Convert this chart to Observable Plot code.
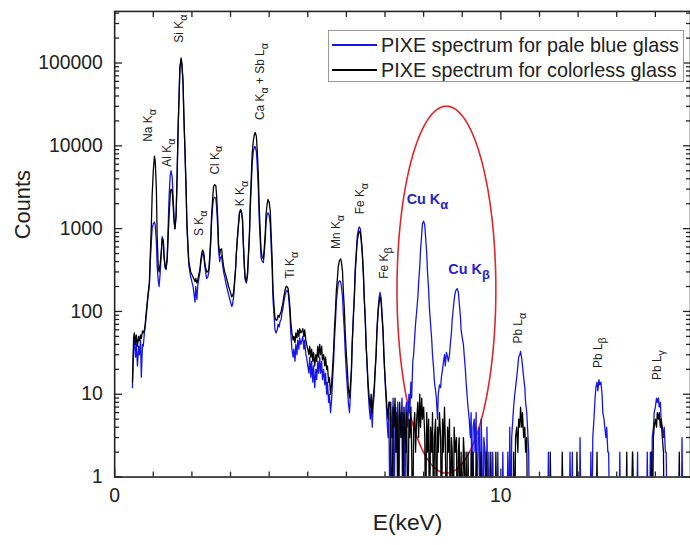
<!DOCTYPE html>
<html><head><meta charset="utf-8">
<script src="https://cdn.jsdelivr.net/npm/d3@7"></script>
<script src="https://cdn.jsdelivr.net/npm/@observablehq/plot@0.6"></script>
<style>
html,body{margin:0;padding:0;background:#fff;overflow:hidden;}
#wrap{position:relative;width:690px;height:545px;overflow:hidden;}
#legend{position:absolute;left:328px;top:30px;width:356px;height:52px;border:1px solid #999;background:#fff;font-family:"Liberation Sans",Arial,sans-serif;font-size:19.8px;color:#222;box-sizing:border-box;}
.row{position:absolute;left:0;display:flex;align-items:center;height:24px;white-space:nowrap;}
.sw{display:inline-block;width:45px;height:1.6px;margin-left:3px;margin-right:4px;}
</style></head>
<body><div id="wrap"><div id="legend"></div></div>
<script>
// ---------- data (energy keV, counts) ----------
const seriesNames = ["PIXE spectrum for pale blue glass", "PIXE spectrum for colorless glass"];
const seriesColors = ["#1515e6", "#000000"];

const blueSpectrum = [
[0.46,12],[0.49,35],[0.51,45],[0.54,28],[0.56,40],[0.59,22],[0.62,38],[0.64,30],[0.67,45],[0.69,16],[0.72,40],[0.74,38],[0.77,55],[0.79,65],[0.82,90],[0.85,130],[0.87,160],[0.90,210],[0.92,380],[0.95,700],[0.97,1000],[1.00,1150],[1.03,1200],[1.05,1100],[1.08,700],[1.10,350],[1.13,230],[1.15,200],[1.18,300],[1.21,520],[1.23,800],[1.26,720],[1.28,450],[1.31,330],[1.33,320],[1.36,450],[1.38,900],[1.41,2500],[1.44,4500],[1.46,5000],[1.49,4200],[1.51,2600],[1.54,1300],[1.56,1000],[1.59,1400],[1.62,5000],[1.64,14000],[1.67,43000],[1.69,88000],[1.72,110000],[1.74,95000],[1.77,58000],[1.79,24000],[1.82,8500],[1.85,2800],[1.87,1100],[1.90,550],[1.92,360],[1.97,260],[2.03,200],[2.08,130],[2.10,200],[2.13,140],[2.15,200],[2.18,250],[2.21,300],[2.23,380],[2.26,470],[2.28,500],[2.31,460],[2.33,360],[2.36,290],[2.38,250],[2.41,260],[2.44,300],[2.46,400],[2.49,700],[2.51,1200],[2.54,1900],[2.56,2300],[2.59,2400],[2.62,2300],[2.64,1800],[2.67,1000],[2.69,550],[2.72,400],[2.74,450],[2.77,470],[2.79,380],[2.82,300],[2.85,260],[2.87,230],[2.90,200],[2.95,160],[3.00,130],[3.03,115],[3.05,120],[3.08,150],[3.10,200],[3.13,310],[3.15,480],[3.18,780],[3.21,1150],[3.23,1500],[3.26,1650],[3.28,1600],[3.31,1250],[3.33,680],[3.36,330],[3.38,240],[3.41,220],[3.44,270],[3.46,420],[3.49,800],[3.51,1700],[3.54,3500],[3.56,6000],[3.59,8500],[3.62,9800],[3.64,9700],[3.67,8500],[3.69,6000],[3.72,3000],[3.74,1400],[3.77,700],[3.79,450],[3.82,400],[3.85,390],[3.87,480],[3.90,750],[3.92,1200],[3.95,1500],[3.97,1550],[4.00,1450],[4.03,1100],[4.05,650],[4.08,300],[4.10,140],[4.13,85],[4.15,60],[4.18,55],[4.21,60],[4.23,70],[4.26,65],[4.28,75],[4.31,80],[4.33,95],[4.36,110],[4.38,130],[4.41,155],[4.44,175],[4.46,180],[4.49,170],[4.51,140],[4.54,90],[4.56,55],[4.59,35],[4.62,28],[4.64,35],[4.67,25],[4.69,40],[4.72,30],[4.74,45],[4.77,35],[4.79,48],[4.82,40],[4.85,45],[4.87,50],[4.90,35],[4.92,45],[4.95,30],[4.97,28],[5.00,22],[5.03,18],[5.05,28],[5.08,16],[5.10,25],[5.13,14],[5.15,22],[5.18,12],[5.21,20],[5.23,15],[5.26,25],[5.28,18],[5.31,28],[5.33,18],[5.36,25],[5.38,15],[5.41,20],[5.44,13],[5.46,18],[5.49,10],[5.51,14],[5.54,8],[5.56,10],[5.59,6],[5.62,9],[5.64,14],[5.67,25],[5.69,45],[5.72,80],[5.74,130],[5.77,180],[5.79,220],[5.82,235],[5.85,230],[5.87,200],[5.90,150],[5.92,95],[5.95,55],[5.97,32],[6.00,18],[6.03,11],[6.05,8],[6.08,6],[6.10,9],[6.13,18],[6.15,40],[6.18,90],[6.21,180],[6.23,340],[6.26,560],[6.28,800],[6.31,980],[6.33,1050],[6.36,1000],[6.38,820],[6.41,560],[6.44,300],[6.46,160],[6.49,80],[6.51,40],[6.54,20],[6.56,12],[6.59,7],[6.62,5],[6.64,8],[6.67,4],[6.69,7],[6.72,10],[6.74,17],[6.77,32],[6.79,60],[6.82,105],[6.85,150],[6.87,170],[6.90,145],[6.92,100],[6.95,60],[6.97,32],[7.00,15],[7.03,8],[7.05,5],[7.08,3],[7.10,6],
[7.13,0],[7.15,8],[7.18,3],[7.21,9],[7.23,0],[7.26,5],[7.28,7],[7.31,2],[7.33,8],[7.36,0],[7.38,6],[7.41,4],[7.44,9],[7.46,2],[7.49,6],[7.51,0],[7.54,7],
[7.56,8],[7.59,4],[7.62,10],[7.64,6],[7.67,14],[7.69,9],[7.72,25],[7.74,30],[7.77,50],[7.79,70],[7.82,100],[7.85,150],[7.87,220],[7.90,350],[7.92,550],[7.95,850],[7.97,1150],[8.00,1230],[8.03,1100],[8.05,800],[8.08,500],[8.10,300],[8.13,180],[8.15,110],[8.18,70],[8.21,45],[8.23,30],[8.26,20],[8.28,14],[8.31,11],[8.33,9],[8.36,5],[8.38,10],[8.41,13],[8.44,12],[8.46,16],[8.49,20],[8.51,24],[8.54,30],[8.56,22],[8.59,32],[8.62,28],[8.64,25],[8.67,30],[8.69,40],[8.72,55],[8.74,80],[8.77,110],[8.79,140],[8.82,170],[8.85,185],[8.87,188],[8.90,170],[8.92,130],[8.95,90],[8.97,60],[9.00,48],[9.03,40],[9.05,30],[9.08,20],[9.10,14],[9.13,9],[9.15,7],
[9.18,5],[9.21,3],[9.23,6],[9.26,0],[9.28,4],[9.31,5],[9.33,2],[9.36,6],[9.38,0],[9.41,3],[9.44,4],[9.46,0],[9.49,5],[9.51,2],[9.54,0],[9.56,3],[9.59,2],[9.62,0],[9.64,4],[9.67,0],[9.69,2],[9.72,0],[9.77,0],[9.79,2],[9.82,0],[9.90,0],[9.92,2],[9.95,0],[10.03,0],[10.05,2],[10.08,0],
[10.15,0],[10.18,2],[10.21,0],[10.23,4],[10.26,0],[10.28,3],[10.31,5],[10.33,7],[10.36,10],[10.38,12],[10.41,16],[10.44,22],[10.46,28],[10.49,30],[10.51,33],[10.54,27],[10.56,22],[10.59,16],[10.62,12],[10.64,8],[10.67,6],[10.69,4],[10.72,2],[10.74,0],
[11.21,0],[11.23,2],[11.26,0],[11.77,0],[11.79,2],[11.82,0],[11.85,2],[11.87,0],[12.03,0],[12.05,3],[12.08,0],
[12.31,0],[12.33,2],[12.36,0],[12.38,3],[12.41,5],[12.44,9],[12.46,12],[12.49,14],[12.51,11],[12.54,15],[12.56,13],[12.59,14],[12.62,10],[12.64,6],[12.67,5],[12.69,4],[12.72,3],[12.74,4],[12.77,2],[12.79,2],[12.82,0],
[13.05,0],[13.08,2],[13.10,0],[13.38,0],[13.41,2],[13.44,0],[13.51,0],[13.54,2],[13.56,0],[13.77,0],[13.79,2],[13.82,0],
[13.85,0],[13.87,2],[13.90,0],[13.92,3],[13.95,4],[13.97,6],[14.00,7],[14.03,9],[14.05,8],[14.08,9],[14.10,7],[14.13,8],[14.15,5],[14.18,4],[14.21,3],[14.23,4],[14.26,2],[14.28,2],[14.31,0],
[14.67,0],[14.69,3],[14.72,0]
];

const blackSpectrum = [
[0.46,14],[0.49,48],[0.51,55],[0.54,40],[0.56,52],[0.59,38],[0.62,50],[0.64,44],[0.67,52],[0.69,47],[0.72,58],[0.74,55],[0.77,60],[0.79,70],[0.82,100],[0.85,140],[0.87,170],[0.90,230],[0.92,450],[0.95,1100],[0.97,2500],[1.00,5000],[1.03,7500],[1.05,6500],[1.08,3000],[1.10,800],[1.13,330],[1.15,300],[1.18,380],[1.21,550],[1.23,750],[1.26,700],[1.28,450],[1.31,340],[1.33,330],[1.36,420],[1.38,700],[1.41,1500],[1.44,2600],[1.46,3000],[1.49,2900],[1.51,2000],[1.54,1200],[1.56,1000],[1.59,1400],[1.62,5000],[1.64,15000],[1.67,45000],[1.69,90000],[1.72,115000],[1.74,100000],[1.77,60000],[1.79,25000],[1.82,9000],[1.85,3000],[1.87,1200],[1.90,600],[1.92,400],[1.97,300],[2.03,260],[2.08,230],[2.10,250],[2.13,220],[2.15,240],[2.18,280],[2.21,330],[2.23,420],[2.26,520],[2.28,550],[2.31,500],[2.33,400],[2.36,330],[2.38,300],[2.41,300],[2.44,330],[2.46,450],[2.49,800],[2.51,1500],[2.54,2400],[2.56,3200],[2.59,3400],[2.62,3300],[2.64,2500],[2.67,1300],[2.69,650],[2.72,480],[2.74,560],[2.77,570],[2.79,450],[2.82,350],[2.85,300],[2.87,280],[2.90,250],[2.95,200],[3.00,170],[3.03,150],[3.05,155],[3.08,170],[3.10,220],[3.13,330],[3.15,500],[3.18,800],[3.21,1200],[3.23,1550],[3.26,1700],[3.28,1650],[3.31,1300],[3.33,700],[3.36,350],[3.38,250],[3.41,230],[3.44,290],[3.46,450],[3.49,900],[3.51,2000],[3.54,4500],[3.56,8000],[3.59,11500],[3.62,14000],[3.64,14500],[3.67,13000],[3.69,9000],[3.72,4500],[3.74,2000],[3.77,900],[3.79,550],[3.82,450],[3.85,430],[3.87,550],[3.90,900],[3.92,1500],[3.95,2000],[3.97,2250],[4.00,2100],[4.03,1600],[4.05,900],[4.08,400],[4.10,180],[4.13,110],[4.15,85],[4.18,78],[4.21,80],[4.23,90],[4.26,85],[4.28,92],[4.31,100],[4.33,110],[4.36,130],[4.38,150],[4.41,180],[4.44,200],[4.46,200],[4.49,190],[4.51,160],[4.54,110],[4.56,75],[4.59,55],[4.62,45],[4.64,50],[4.67,42],[4.69,55],[4.72,48],[4.74,60],[4.77,50],[4.79,62],[4.82,55],[4.85,58],[4.87,62],[4.90,50],[4.92,60],[4.95,45],[4.97,40],[5.00,35],[5.03,30],[5.05,38],[5.08,28],[5.10,35],[5.13,25],[5.15,32],[5.18,22],[5.21,30],[5.23,25],[5.26,38],[5.28,28],[5.31,40],[5.33,30],[5.36,38],[5.38,26],[5.41,30],[5.44,22],[5.46,28],[5.49,20],[5.51,22],[5.54,14],[5.56,16],[5.59,10],[5.62,14],[5.64,20],[5.67,35],[5.69,60],[5.72,110],[5.74,180],[5.77,260],[5.79,350],[5.82,410],[5.85,430],[5.87,400],[5.90,300],[5.92,180],[5.95,100],[5.97,55],[6.00,30],[6.03,18],[6.05,12],[6.08,9],[6.10,12],[6.13,20],[6.15,40],[6.18,80],[6.21,160],[6.23,300],[6.26,500],[6.28,700],[6.31,850],[6.33,930],[6.36,900],[6.38,750],[6.41,500],[6.44,280],[6.46,150],[6.49,75],[6.51,40],[6.54,22],[6.56,14],[6.59,9],[6.62,7],[6.64,10],[6.67,6],[6.69,9],[6.72,12],[6.74,18],[6.77,30],[6.79,55],[6.82,95],[6.85,135],[6.87,150],[6.90,130],[6.92,90],[6.95,55],[6.97,30],[7.00,16],[7.03,10],[7.05,7],[7.08,5],[7.10,8],
[7.13,8],[7.15,3],[7.18,0],[7.21,7],[7.23,4],[7.26,9],[7.28,2],[7.31,6],[7.33,0],[7.36,5],[7.38,8],[7.41,3],[7.44,6],[7.46,0],[7.49,7],[7.51,4],[7.54,2],[7.56,6],[7.59,0],[7.62,5],[7.64,3],[7.67,7],[7.69,2],[7.72,0],[7.74,4],[7.77,6],[7.79,2],[7.82,5],[7.85,8],[7.87,3],[7.90,10],[7.92,4],[7.95,9],[7.97,5],[8.00,7],[8.03,3],[8.05,0],[8.08,6],[8.10,2],[8.13,5],[8.15,0],[8.18,4],[8.21,2],[8.23,6],[8.26,0],[8.28,3],[8.31,5],[8.33,0],[8.36,4],[8.38,2],[8.41,6],[8.44,3],[8.46,0],[8.49,5],[8.51,2],[8.54,7],[8.56,3],[8.59,0],[8.62,4],[8.64,2],[8.67,5],[8.69,0],[8.72,3],[8.74,2],[8.77,0],[8.79,4],[8.82,2],[8.85,3],[8.87,0],[8.90,2],[8.92,3],[8.95,0],[8.97,2],[9.00,0],[9.03,3],[9.05,2],[9.08,0],[9.10,2],[9.13,0],[9.15,2],[9.18,0],[9.21,0],[9.23,2],[9.26,0],[9.28,2],[9.31,0],[9.33,0],[9.36,2],[9.38,0],
[9.46,0],[9.49,2],[9.51,0],[9.59,0],[9.62,2],[9.64,0],[9.72,0],[9.74,2],[9.77,0],[9.85,0],[9.87,2],[9.90,0],
[10.31,0],[10.33,2],[10.36,0],[10.38,3],[10.41,4],[10.44,2],[10.46,5],[10.49,4],[10.51,7],[10.54,4],[10.56,6],[10.59,3],[10.62,4],[10.64,2],[10.67,3],[10.69,0],
[11.26,0],[11.28,2],[11.31,0],[11.56,0],[11.59,2],[11.62,0],[11.95,0],[11.97,2],[12.00,0],[12.46,0],[12.49,2],[12.51,0],[13.23,0],[13.26,2],[13.28,0],[13.38,0],[13.41,2],[13.44,0],
[13.87,0],[13.90,2],[13.92,0],[13.95,3],[13.97,4],[14.00,5],[14.03,4],[14.05,6],[14.08,5],[14.10,6],[14.13,4],[14.15,5],[14.18,3],[14.21,2],[14.23,0],
[14.59,0],[14.62,2],[14.64,0]
];

// peak labels (rotated): text, energy, counts at label start
const peakLabels = ["Na K_α","Al K_α","Si K_α","S K_α","Cl K_α","K K_α","Ca K_α + Sb L_α","Ti K_α","Mn K_α","Fe K_α","Fe K_β","Pb L_α","Pb L_β","Pb L_γ"];
const peakLabelE = [0.87,1.36,1.67,2.18,2.59,3.26,3.77,4.54,5.74,6.36,6.97,10.46,12.51,14.05];
const peakLabelC = [11200,5600,176000,813,4500,1860,20500,248,568,1490,248,41,20.8,14.9];

// Cu labels (horizontal, bold blue)
const cuLabels = ["Cu K_α","Cu K_β"];
const cuLabelE = [7.56,8.64];
const cuLabelC = [2256,318];

// highlight ellipse: centre energy, centre log10(counts), half-width keV, half-height decades
const ellipseSpec = {e: 8.59, logc: 2.263, de: 1.28, dlog: 2.216};

// axes ticks
const xMajor = [0, 10];
const xMinor = [1,2,3,4,5,6,7,8,9,11,12,13,14];
const yMajor = [1,10,100,1000,10000,100000];
const yMinor = [];
for (const dec of [1,10,100,1000,10000,100000]) for (const m of [2,3,4,5,6,7,8,9]) if (dec*m < 4.2e5) yMinor.push(dec*m);

// ---------- chart ----------
const ellipsePts = d3.range(0, 2*Math.PI + 0.02, 0.02).map(t => ({
  x: ellipseSpec.e + ellipseSpec.de*Math.cos(t),
  y: Math.pow(10, ellipseSpec.logc + ellipseSpec.dlog*Math.sin(t))
}));
const yv = d => d[1] > 0 ? d[1] : 0.2;  // zero-count channels fall below the axis (clipped)
const axisColor = "#222";
const noText = () => "";

const plot = Plot.plot({
  width: 695, height: 545,
  marginLeft: 115, marginRight: 0, marginTop: 11, marginBottom: 65,
  style: {fontFamily: "'Liberation Sans', Arial, sans-serif", color: axisColor, background: "#fff"},
  x: {domain: [0, 14.91]},
  y: {type: "log", domain: [1, 4.2e5]},
  marks: [
    Plot.line(ellipsePts, {x: "x", y: "y", stroke: "#e0262b", strokeWidth: 1.6, clip: true}),
    Plot.line(blueSpectrum, {x: d => d[0], y: yv, stroke: seriesColors[0], strokeWidth: 1.3, clip: true}),
    Plot.line(blackSpectrum, {x: d => d[0], y: yv, stroke: seriesColors[1], strokeWidth: 1.3, clip: true}),
    Plot.text(peakLabels, {x: peakLabelE, y: peakLabelC, text: d => d, rotate: -90, textAnchor: "start", fontSize: 12, fill: "#222"}),
    Plot.text(cuLabels, {x: cuLabelE, y: cuLabelC, text: d => d, textAnchor: "start", fontSize: 14.5, fontWeight: "bold", fill: "#2424c8"}),
    Plot.axisY(yMajor, {anchor: "left", tickSize: -8, tickPadding: 20, tickFormat: d => String(d), fontSize: 19.5, strokeWidth: 1.3, label: null}),
    Plot.axisY(yMinor, {anchor: "left", tickSize: -5, tickFormat: noText, strokeWidth: 1.3, label: null}),
    Plot.axisY(yMajor, {anchor: "right", tickSize: -8, tickFormat: noText, strokeWidth: 1.3, label: null}),
    Plot.axisY(yMinor, {anchor: "right", tickSize: -5, tickFormat: noText, strokeWidth: 1.3, label: null}),
    Plot.axisX(xMajor, {anchor: "bottom", tickSize: -8, tickPadding: 19, fontSize: 19.5, strokeWidth: 1.3, label: null}),
    Plot.axisX(xMinor, {anchor: "bottom", tickSize: -5, tickFormat: noText, strokeWidth: 1.3, label: null}),
    Plot.axisX(xMajor, {anchor: "top", tickSize: -8, tickFormat: noText, strokeWidth: 1.3, label: null}),
    Plot.axisX(xMinor, {anchor: "top", tickSize: -5, tickFormat: noText, strokeWidth: 1.3, label: null}),
    Plot.frame({stroke: axisColor, strokeWidth: 1.6}),
    Plot.text(["Counts"], {text: d => d, frameAnchor: "left", dx: -92, dy: -5, rotate: -90, fontSize: 22, fill: axisColor}),
    Plot.text(["E(keV)"], {text: d => d, frameAnchor: "bottom", dx: 5, dy: 53, fontSize: 23, fill: axisColor})
  ]
});

const wrap = document.getElementById("wrap");
wrap.insertBefore(plot, wrap.firstChild);

// subscripts: "_x" -> x lowered and smaller
plot.querySelectorAll("text").forEach(t => {
  const s = t.textContent;
  if (!s.includes("_")) return;
  const fs = parseFloat(getComputedStyle(t).fontSize) || 12;
  const sh = fs * 0.33;
  while (t.firstChild) t.removeChild(t.firstChild);
  const add = (str, dy, small) => {
    const sp = document.createElementNS("http://www.w3.org/2000/svg", "tspan");
    if (dy) sp.setAttribute("dy", dy);
    if (small) sp.setAttribute("font-size", (fs * 0.9).toFixed(1));
    sp.textContent = str;
    t.appendChild(sp);
  };
  s.split("_").forEach((p, i) => {
    if (i === 0) { if (p) add(p, 0, false); return; }
    add(p[0], sh, true);
    if (p.length > 1) add(p.slice(1), -sh, false);
  });
});

// legend (inside plot area, upper right)
const leg = document.getElementById("legend");
seriesNames.forEach((name, i) => {
  const row = document.createElement("div");
  row.className = "row";
  row.style.top = (2 + i * 25) + "px";
  const sw = document.createElement("span");
  sw.className = "sw";
  sw.style.background = seriesColors[i];
  const tx = document.createElement("span");
  tx.textContent = name;
  row.appendChild(sw); row.appendChild(tx);
  leg.appendChild(row);
});
</script></body></html>
